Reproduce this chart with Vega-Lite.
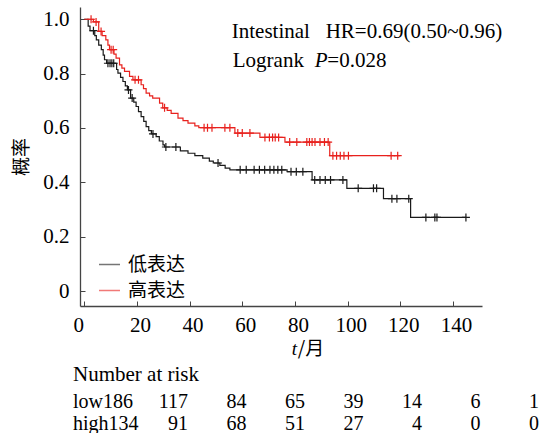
{
  "$schema": "https://vega.github.io/schema/vega-lite/v6.json",
  "padding": {"left": 12, "top": 7, "right": 0, "bottom": 0},
  "spacing": 3,
  "config": {"view": {"stroke": null}, "font": "Liberation Serif"},
  "datasets": {
    "curves": [
      {"group": "低表达", "time": 0, "surv": 1.0},
      {"group": "低表达", "time": 1.5, "surv": 0.975},
      {"group": "低表达", "time": 2.2, "surv": 0.958},
      {"group": "低表达", "time": 4.0, "surv": 0.94},
      {"group": "低表达", "time": 4.6, "surv": 0.924},
      {"group": "低表达", "time": 5.5, "surv": 0.905},
      {"group": "低表达", "time": 6.5, "surv": 0.888},
      {"group": "低表达", "time": 7.2, "surv": 0.868},
      {"group": "低表达", "time": 7.7, "surv": 0.851},
      {"group": "低表达", "time": 8.5, "surv": 0.838},
      {"group": "低表达", "time": 12.3, "surv": 0.815},
      {"group": "低表达", "time": 12.8, "surv": 0.802},
      {"group": "低表达", "time": 13.8, "surv": 0.786},
      {"group": "低表达", "time": 14.7, "surv": 0.771},
      {"group": "低表达", "time": 15.6, "surv": 0.755},
      {"group": "低表达", "time": 16.4, "surv": 0.74},
      {"group": "低表达", "time": 17.6, "surv": 0.71},
      {"group": "低表达", "time": 18.8, "surv": 0.695},
      {"group": "低表达", "time": 19.7, "surv": 0.679},
      {"group": "低表达", "time": 20.6, "surv": 0.66},
      {"group": "低表达", "time": 21.6, "surv": 0.642},
      {"group": "低表达", "time": 22.6, "surv": 0.624},
      {"group": "低表达", "time": 23.5, "surv": 0.605},
      {"group": "低表达", "time": 24.5, "surv": 0.59},
      {"group": "低表达", "time": 25.5, "surv": 0.578},
      {"group": "低表达", "time": 27.3, "surv": 0.568},
      {"group": "低表达", "time": 28.5, "surv": 0.552},
      {"group": "低表达", "time": 29.9, "surv": 0.538},
      {"group": "低表达", "time": 30.5, "surv": 0.53},
      {"group": "低表达", "time": 36.5, "surv": 0.516},
      {"group": "低表达", "time": 39.4, "surv": 0.507},
      {"group": "低表达", "time": 42, "surv": 0.498},
      {"group": "低表达", "time": 45, "surv": 0.489},
      {"group": "低表达", "time": 47.5, "surv": 0.478},
      {"group": "低表达", "time": 49, "surv": 0.471},
      {"group": "低表达", "time": 51.5, "surv": 0.462},
      {"group": "低表达", "time": 53.5, "surv": 0.452},
      {"group": "低表达", "time": 55.3, "surv": 0.446},
      {"group": "低表达", "time": 77, "surv": 0.439},
      {"group": "低表达", "time": 86.5, "surv": 0.409},
      {"group": "低表达", "time": 99.7, "surv": 0.378},
      {"group": "低表达", "time": 113.6, "surv": 0.34},
      {"group": "低表达", "time": 123.9, "surv": 0.271},
      {"group": "低表达", "time": 145, "surv": 0.271},
      {"group": "高表达", "time": 0, "surv": 1.0},
      {"group": "高表达", "time": 3.5, "surv": 0.99},
      {"group": "高表达", "time": 5.5, "surv": 0.955},
      {"group": "高表达", "time": 6.8, "surv": 0.94},
      {"group": "高表达", "time": 8.2, "surv": 0.924},
      {"group": "高表达", "time": 9.0, "surv": 0.905},
      {"group": "高表达", "time": 9.6, "surv": 0.888},
      {"group": "高表达", "time": 11.3, "surv": 0.872},
      {"group": "高表达", "time": 12.1, "surv": 0.857},
      {"group": "高表达", "time": 13.4, "surv": 0.832},
      {"group": "高表达", "time": 14.3, "surv": 0.82},
      {"group": "高表达", "time": 15.3, "surv": 0.808},
      {"group": "高表达", "time": 17.2, "surv": 0.79},
      {"group": "高表达", "time": 18.5, "surv": 0.777},
      {"group": "高表达", "time": 21.6, "surv": 0.759},
      {"group": "高表达", "time": 22.5, "surv": 0.745},
      {"group": "高表达", "time": 23.5, "surv": 0.728},
      {"group": "高表达", "time": 24.8, "surv": 0.718},
      {"group": "高表达", "time": 26, "surv": 0.71},
      {"group": "高表达", "time": 28.6, "surv": 0.691},
      {"group": "高表达", "time": 29.8, "surv": 0.674},
      {"group": "高表达", "time": 31.5, "surv": 0.665},
      {"group": "高表达", "time": 33, "surv": 0.654},
      {"group": "高表达", "time": 35.6, "surv": 0.636},
      {"group": "高表达", "time": 37.5, "surv": 0.627},
      {"group": "高表达", "time": 39.4, "surv": 0.618},
      {"group": "高表达", "time": 42, "surv": 0.608},
      {"group": "高表达", "time": 43.5, "surv": 0.601},
      {"group": "高表达", "time": 57.2, "surv": 0.581},
      {"group": "高表达", "time": 66.7, "surv": 0.565},
      {"group": "高表达", "time": 76.2, "surv": 0.548},
      {"group": "高表达", "time": 93.2, "surv": 0.498},
      {"group": "高表达", "time": 119.8, "surv": 0.498}
    ],
    "censor": [
      {"group": "低表达", "time": 3.5, "surv": 0.958},
      {"group": "低表达", "time": 9.0, "surv": 0.838},
      {"group": "低表达", "time": 9.8, "surv": 0.838},
      {"group": "低表达", "time": 10.5, "surv": 0.838},
      {"group": "低表达", "time": 11.2, "surv": 0.838},
      {"group": "低表达", "time": 16.8, "surv": 0.74},
      {"group": "低表达", "time": 18.2, "surv": 0.71},
      {"group": "低表达", "time": 26.1, "surv": 0.578},
      {"group": "低表达", "time": 31.0, "surv": 0.53},
      {"group": "低表达", "time": 34.8, "surv": 0.53},
      {"group": "低表达", "time": 50.8, "surv": 0.471},
      {"group": "低表达", "time": 59.2, "surv": 0.446},
      {"group": "低表达", "time": 61.5, "surv": 0.446},
      {"group": "低表达", "time": 64.5, "surv": 0.446},
      {"group": "低表达", "time": 66.5, "surv": 0.446},
      {"group": "低表达", "time": 68.5, "surv": 0.446},
      {"group": "低表达", "time": 70.5, "surv": 0.446},
      {"group": "低表达", "time": 72, "surv": 0.446},
      {"group": "低表达", "time": 73.5, "surv": 0.446},
      {"group": "低表达", "time": 75, "surv": 0.446},
      {"group": "低表达", "time": 78.5, "surv": 0.439},
      {"group": "低表达", "time": 80.5, "surv": 0.439},
      {"group": "低表达", "time": 83, "surv": 0.439},
      {"group": "低表达", "time": 87.5, "surv": 0.409},
      {"group": "低表达", "time": 89.5, "surv": 0.409},
      {"group": "低表达", "time": 91.5, "surv": 0.409},
      {"group": "低表达", "time": 93.5, "surv": 0.409},
      {"group": "低表达", "time": 98.2, "surv": 0.409},
      {"group": "低表达", "time": 104, "surv": 0.378},
      {"group": "低表达", "time": 109.8, "surv": 0.378},
      {"group": "低表达", "time": 111, "surv": 0.378},
      {"group": "低表达", "time": 116.8, "surv": 0.34},
      {"group": "低表达", "time": 118.7, "surv": 0.34},
      {"group": "低表达", "time": 123.2, "surv": 0.34},
      {"group": "低表达", "time": 129.7, "surv": 0.271},
      {"group": "低表达", "time": 133.1, "surv": 0.271},
      {"group": "低表达", "time": 133.9, "surv": 0.271},
      {"group": "低表达", "time": 144.9, "surv": 0.271},
      {"group": "高表达", "time": 2.6, "surv": 1.0},
      {"group": "高表达", "time": 4.5, "surv": 0.99},
      {"group": "高表达", "time": 6.4, "surv": 0.955},
      {"group": "高表达", "time": 10.2, "surv": 0.888},
      {"group": "高表达", "time": 11.0, "surv": 0.888},
      {"group": "高表达", "time": 19.3, "surv": 0.777},
      {"group": "高表达", "time": 20.6, "surv": 0.777},
      {"group": "高表达", "time": 30.5, "surv": 0.674},
      {"group": "高表达", "time": 45.5, "surv": 0.601},
      {"group": "高表达", "time": 46.8, "surv": 0.601},
      {"group": "高表达", "time": 48.5, "surv": 0.601},
      {"group": "高表达", "time": 53.4, "surv": 0.601},
      {"group": "高表达", "time": 55.3, "surv": 0.601},
      {"group": "高表达", "time": 58.3, "surv": 0.581},
      {"group": "高表达", "time": 60.0, "surv": 0.581},
      {"group": "高表达", "time": 62.9, "surv": 0.581},
      {"group": "高表达", "time": 68.6, "surv": 0.565},
      {"group": "高表达", "time": 70.3, "surv": 0.565},
      {"group": "高表达", "time": 71.5, "surv": 0.565},
      {"group": "高表达", "time": 72.5, "surv": 0.565},
      {"group": "高表达", "time": 73.8, "surv": 0.565},
      {"group": "高表达", "time": 78.0, "surv": 0.548},
      {"group": "高表达", "time": 80.7, "surv": 0.548},
      {"group": "高表达", "time": 84.5, "surv": 0.548},
      {"group": "高表达", "time": 85.5, "surv": 0.548},
      {"group": "高表达", "time": 86.5, "surv": 0.548},
      {"group": "高表达", "time": 87.6, "surv": 0.548},
      {"group": "高表达", "time": 89.5, "surv": 0.548},
      {"group": "高表达", "time": 91.2, "surv": 0.548},
      {"group": "高表达", "time": 92.6, "surv": 0.548},
      {"group": "高表达", "time": 94.4, "surv": 0.498},
      {"group": "高表达", "time": 95.8, "surv": 0.498},
      {"group": "高表达", "time": 97.2, "surv": 0.498},
      {"group": "高表达", "time": 98.6, "surv": 0.498},
      {"group": "高表达", "time": 100.3, "surv": 0.498},
      {"group": "高表达", "time": 116.5, "surv": 0.498},
      {"group": "高表达", "time": 119.0, "surv": 0.498}
    ],
    "risk": [
      {"group": "low", "time": 0, "n": 186},
      {"group": "low", "time": 20, "n": 117},
      {"group": "low", "time": 40, "n": 84},
      {"group": "low", "time": 60, "n": 65},
      {"group": "low", "time": 80, "n": 39},
      {"group": "low", "time": 100, "n": 14},
      {"group": "low", "time": 120, "n": 6},
      {"group": "low", "time": 140, "n": 1},
      {"group": "high", "time": 0, "n": 134},
      {"group": "high", "time": 20, "n": 91},
      {"group": "high", "time": 40, "n": 68},
      {"group": "high", "time": 60, "n": 51},
      {"group": "high", "time": 80, "n": 27},
      {"group": "high", "time": 100, "n": 4},
      {"group": "high", "time": 120, "n": 0},
      {"group": "high", "time": 140, "n": 0}
    ]
  },
  "vconcat": [
    {
      "width": 402,
      "height": 299,
      "layer": [
        {
          "data": {"name": "curves"},
          "mark": {"type": "line", "interpolate": "step-after", "strokeWidth": 1.2},
          "encoding": {
            "x": {
              "field": "time", "type": "quantitative",
              "scale": {"domain": [-1.6, 151], "nice": false, "zero": false},
              "axis": {
                "values": [0, 20, 40, 60, 80, 100, 120, 140],
                "title": null, "grid": false,
                "tickSize": -5, "labelPadding": 13,
                "labelOffset": {"condition": {"test": "datum.value == 0", "value": -6}, "value": 3},
                "labelFont": "Liberation Serif", "labelFontSize": 21, "labelColor": "#000",
                "labelFlush": false, "labelOverlap": false,
                "domainColor": "#444", "tickColor": "#444", "domainWidth": 1.3
              }
            },
            "y": {
              "field": "surv", "type": "quantitative",
              "scale": {"domain": [-0.055, 1.045], "nice": false, "zero": false},
              "axis": {
                "values": [0, 0.2, 0.4, 0.6, 0.8, 1],
                "labelExpr": "datum.value == 0 ? '0' : format(datum.value, '.1f')",
                "title": "概率", "titleFont": "Noto Sans CJK SC", "titleFontSize": 19,
                "titleFontWeight": "normal", "titlePadding": 11, "titleColor": "#000",
                "grid": false, "tickSize": -5, "labelPadding": 16,
                "labelFont": "Liberation Serif", "labelFontSize": 21, "labelColor": "#000",
                "labelFlush": false, "labelOverlap": false,
                "domainColor": "#444", "tickColor": "#444", "domainWidth": 1.3
              }
            },
            "color": {
              "field": "group", "type": "nominal",
              "scale": {"domain": ["低表达", "高表达"], "range": ["#1a1a1a", "#e8211d"]},
              "legend": {
                "orient": "none", "legendX": 18, "legendY": 246, "title": null,
                "labelFont": "Noto Sans CJK SC", "labelFontSize": 19, "labelColor": "#000",
                "symbolType": "stroke", "symbolSize": 441, "symbolStrokeWidth": 1.5,
                "symbolOpacity": 0.6, "rowPadding": 4, "labelOffset": 7, "padding": 0
              }
            }
          }
        },
        {
          "data": {"name": "censor"},
          "mark": {"type": "point", "shape": "M-1,0H1M0,-1V1", "size": 64, "strokeWidth": 1.2, "filled": false, "opacity": 1},
          "encoding": {
            "x": {"field": "time", "type": "quantitative"},
            "y": {"field": "surv", "type": "quantitative"},
            "color": {"field": "group", "type": "nominal", "legend": null}
          }
        },
        {
          "data": {"values": [{}]},
          "mark": {"type": "text", "align": "left", "baseline": "alphabetic", "fontSize": 21, "font": "Liberation Serif", "text": "Intestinal\u00a0\u00a0\u00a0HR=0.69(0.50~0.96)"},
          "encoding": {"x": {"datum": 56}, "y": {"datum": 0.931}}
        },
        {
          "data": {"values": [{}]},
          "mark": {"type": "text", "align": "left", "baseline": "alphabetic", "fontSize": 21, "font": "Liberation Serif", "text": "Logrank"},
          "encoding": {"x": {"datum": 56.4}, "y": {"datum": 0.826}}
        },
        {
          "data": {"values": [{}]},
          "mark": {"type": "text", "align": "left", "baseline": "alphabetic", "fontSize": 21, "font": "Liberation Serif", "fontStyle": "italic", "text": "P"},
          "encoding": {"x": {"datum": 87.5}, "y": {"datum": 0.826}}
        },
        {
          "data": {"values": [{}]},
          "mark": {"type": "text", "align": "left", "baseline": "alphabetic", "fontSize": 21, "font": "Liberation Serif", "text": "=0.028"},
          "encoding": {"x": {"datum": 92.3}, "y": {"datum": 0.826}}
        },
        {
          "data": {"values": [{}]},
          "mark": {"type": "text", "align": "left", "baseline": "alphabetic", "fontSize": 19, "font": "Liberation Serif", "fontStyle": "italic", "text": "t"},
          "encoding": {"x": {"datum": 78.8}, "y": {"datum": -0.236}}
        },
        {
          "data": {"values": [{}]},
          "mark": {"type": "text", "align": "left", "baseline": "alphabetic", "fontSize": 19, "font": "Noto Sans CJK SC", "text": "/月"},
          "encoding": {"x": {"datum": 81.1}, "y": {"datum": -0.236}}
        }
      ]
    },
    {
      "width": 470,
      "height": 21.5,
      "layer": [
        {
          "data": {"name": "risk"},
          "transform": [{"filter": "datum.time > 0"}],
          "mark": {"type": "text", "align": "right", "baseline": "alphabetic", "fontSize": 20, "font": "Liberation Serif"},
          "encoding": {
            "x": {
              "field": "time", "type": "quantitative",
              "scale": {"domain": [-16.92, 143.76], "nice": false, "zero": false},
              "axis": null
            },
            "y": {
              "field": "group", "type": "ordinal",
              "scale": {"type": "point", "domain": ["low", "high"], "padding": 0},
              "axis": null
            },
            "text": {"field": "n"}
          }
        },
        {
          "data": {"name": "risk"},
          "transform": [
            {"filter": "datum.time == 0"},
            {"calculate": "datum.group + datum.n", "as": "label"}
          ],
          "mark": {"type": "text", "align": "left", "baseline": "alphabetic", "fontSize": 20, "font": "Liberation Serif", "dx": -56.5},
          "encoding": {
            "x": {"field": "time", "type": "quantitative", "axis": null},
            "y": {"field": "group", "type": "ordinal", "axis": null},
            "text": {"field": "label"}
          }
        },
        {
          "data": {"values": [{}]},
          "mark": {"type": "text", "align": "left", "baseline": "alphabetic", "fontSize": 21, "font": "Liberation Serif", "dx": -56.5, "dy": -27.4, "text": "Number at risk"},
          "encoding": {"x": {"datum": 0}, "y": {"datum": "low"}}
        }
      ]
    }
  ]
}
